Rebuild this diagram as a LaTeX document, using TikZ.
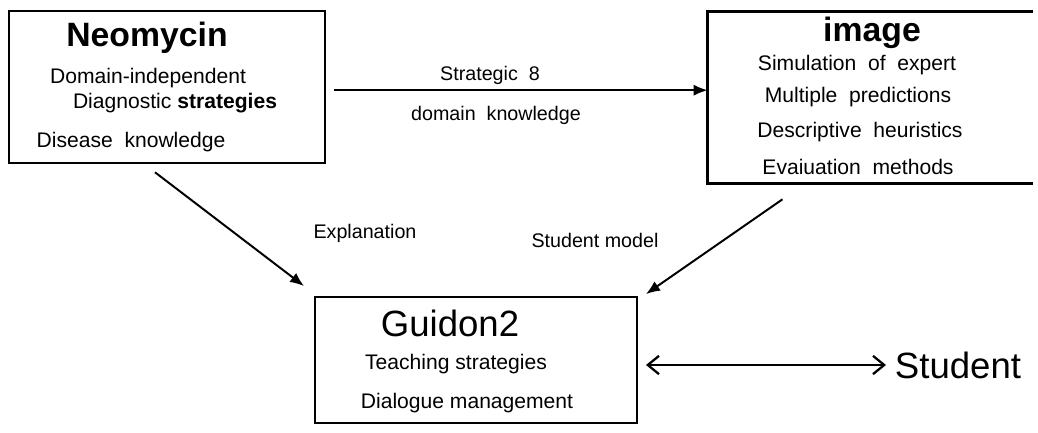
\documentclass[tikz,border=0pt]{standalone}
\usepackage{fontspec}
\setmainfont{Liberation Sans}
\usetikzlibrary{arrows.meta}

\tikzset{
  boxthick/.style={draw,line width=1.8pt,minimum width=7.9cm,minimum height=3.8cm},
  title/.style={font=\fontsize{24}{28}\selectfont\bfseries},
  bigtxt/.style={font=\fontsize{26}{30}\selectfont},
  item/.style={font=\fontsize{15}{18}\selectfont},
  lbl/.style={font=\fontsize{14}{17}\selectfont},
  arr/.style={line width=1.4pt,-{Latex[length=10pt,width=8pt]}},
  dblarr/.style={line width=1.6pt,{Straight Barb[length=8pt,width=13pt]}-{Straight Barb[length=8pt,width=13pt]}}
}

\begin{document}
\begin{tikzpicture}[x=0.025cm,y=-0.025cm]
        \useasboundingbox (0,0) rectangle (1038,433);

        % boxes
        \node[boxthick] (neo) at (167,87) {};
        \node[minimum width=8.125cm,minimum height=4.275cm] (img) at (870.5,97.5) {};
        \draw[line width=1.8pt] (img.north east) -- (img.north west) -- (img.south west) -- (img.south east);
        \node[draw,line width=1.3pt,minimum width=8.05cm,minimum height=3.15cm] (guidon) at (476,360) {};

        % Neomycin
        \node[title] (neoT) at (147,38) {Neomycin};
        \node[item] (neo1) at (148,78) {Domain-independent};
        \node[item] (neo2) at (175,103) {Diagnostic \textbf{strategies}};
        \node[item] (neo3) at (131,142) {Disease~~knowledge};

        % image
        \node[title] (imgT) at (872,33) {image};
        \node[item] (img1) at (857,65) {Simulation~~of~~expert};
        \node[item] (img2) at (858,97) {Multiple~~predictions};
        \node[item] (img3) at (860,132) {Descriptive~~heuristics};
        \node[item] (img4) at (858,167) {Evaiuation~~methods};

        % Guidon2
        \node[bigtxt] (guiT) at (450,323) {Guidon2};
        \node[item] (gui1) at (456,364) {Teaching strategies};
        \node[item] (gui2) at (467,403) {Dialogue management};

        \node[bigtxt] (stud) at (958,365) {Student};

        % labels
        \node[lbl] (lStrat) at (490,75) {Strategic~~8};
        \node[lbl] (lDom) at (496,115) {domain~~knowledge};
        \node[lbl] (lExpl) at (365,233) {Explanation};
        \node[lbl] (lModel) at (595,240) {Student model};

        % connectors
        \draw[arr,shorten <=0.2cm] ([yshift=-0.08cm]neo.east) -- ([yshift=-0.08cm]neo.east -| img.west);
        \draw[arr] ([shift={(-0.3cm,-0.2cm)}]neo.south) -- ([shift={(-0.25cm,0.25cm)}]guidon.north west);
        \draw[arr] ([shift={(-2.2cm,-0.4cm)}]img.south) -- ([shift={(0.2cm,0.05cm)}]guidon.north east);
        \draw[dblarr,shorten <=0.2cm,shorten >=0.1cm] (stud.west -| guidon.east) -- (stud.west);
    \end{tikzpicture}
\end{document}
